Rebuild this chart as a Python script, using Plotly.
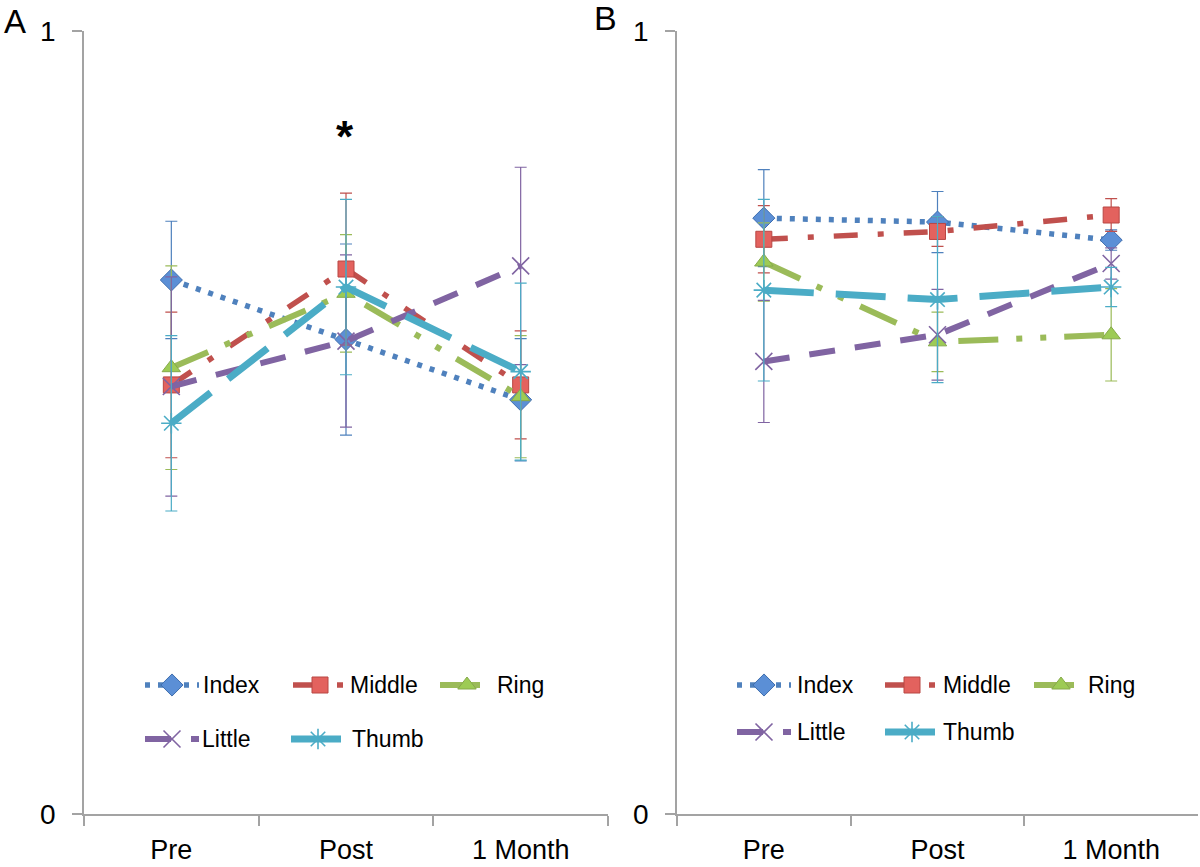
import plotly.graph_objects as go

# ---------------- data ----------------
categories = ["Pre", "Post", "1 Month"]
series_names = ["Index", "Middle", "Ring", "Little", "Thumb"]

a_index = [0.682, 0.606, 0.529]
a_middle = [0.548, 0.696, 0.548]
a_ring = [0.570, 0.665, 0.533]
a_little = [0.546, 0.604, 0.700]
a_thumb = [0.499, 0.673, 0.565]

a_index_err = [0.075, 0.122, 0.078]
a_middle_err = [0.093, 0.097, 0.069]
a_ring_err = [0.130, 0.075, 0.078]
a_little_err = [0.140, 0.110, 0.126]
a_thumb_err = [0.112, 0.112, 0.113]

b_index = [0.761, 0.756, 0.733]
b_middle = [0.734, 0.744, 0.765]
b_ring = [0.705, 0.603, 0.612]
b_little = [0.578, 0.612, 0.703]
b_thumb = [0.669, 0.657, 0.673]

b_index_err = [0.062, 0.039, 0.013]
b_middle_err = [0.043, 0.019, 0.021]
b_ring_err = [0.050, 0.038, 0.059]
b_little_err = [0.078, 0.058, 0.020]
b_thumb_err = [0.116, 0.106, 0.025]

y_tick_vals = [0, 1]
y_tick_text = ["0", "1"]

# ---------------- styles ----------------
W, H = 1200, 867
FONT = "Liberation Sans, Arial, sans-serif"
AXIS_GRAY = "#A3A3A3"

styles = {
    "Index": dict(color="#4F81BD", dash="5px,8px", width=5.5, symbol="diamond",
                  mfill="#5B8FD6", mline="#3F6EAE", msize=17, mlw=1),
    "Middle": dict(color="#C0504D", dash="24px,20px,6px,20px", width=5.5, symbol="square",
                   mfill="#E3625E", mline="#B84643", msize=16, mlw=1),
    "Ring": dict(color="#9BBB59", dash="40px,18px,6px,18px,6px,18px", width=6, symbol="triangle-up",
                 mfill="#9DCB55", mline="#86A94A", msize=16, mlw=1),
    "Little": dict(color="#8064A2", dash="26px,20px", width=6, symbol="x-thin-open",
                   mfill="#8064A2", mline="#8064A2", msize=17, mlw=1.6),
    "Thumb": dict(color="#4BACC6", dash="50px,22px", width=7, symbol="asterisk-open",
                  mfill="#4BACC6", mline="#4BACC6", msize=17, mlw=1.6),
}

panel_a = {"Index": (a_index, a_index_err), "Middle": (a_middle, a_middle_err),
           "Ring": (a_ring, a_ring_err), "Little": (a_little, a_little_err),
           "Thumb": (a_thumb, a_thumb_err)}
panel_b = {"Index": (b_index, b_index_err), "Middle": (b_middle, b_middle_err),
           "Ring": (b_ring, b_ring_err), "Little": (b_little, b_little_err),
           "Thumb": (b_thumb, b_thumb_err)}


def marker_dict(st):
    if st["symbol"].endswith("-open"):
        return dict(symbol=st["symbol"], size=st["msize"], color=st["mline"],
                    line=dict(width=st["mlw"], color=st["mline"]))
    return dict(symbol=st["symbol"], size=st["msize"], color=st["mfill"],
                line=dict(width=st["mlw"], color=st["mline"]))


fig = go.Figure()

for panel, xa, ya in [(panel_a, "x", "y"), (panel_b, "x2", "y2")]:
    for name in series_names:
        vals, errs = panel[name]
        st = styles[name]
        fig.add_trace(go.Scatter(
            x=categories, y=vals, name=name, mode="lines+markers",
            xaxis=xa, yaxis=ya, showlegend=False,
            line=dict(color=st["color"], width=st["width"], dash=st["dash"]),
            marker=marker_dict(st),
            error_y=dict(type="data", array=errs, visible=True,
                         color=st["color"], thickness=1.2, width=6),
        ))

# ---------------- hand-built legends (pixel overlay axis) ----------------
legend_layout = {
    # panel: list of (name, key_center_x, row_y, text_x)
    "A": [("Index", 172, 685, 201), ("Middle", 320, 685, 348), ("Ring", 467, 685, 495),
          ("Little", 172, 739, 200), ("Thumb", 318, 739, 350)],
    "B": [("Index", 764, 685, 795), ("Middle", 912, 685, 941), ("Ring", 1061, 685, 1086),
          ("Little", 764, 732, 795), ("Thumb", 912, 732, 941)],
}
KEY_HALF = 27
annotations = []
for panel, items in legend_layout.items():
    for name, cx, ry, tx in items:
        st = styles[name]
        fig.add_trace(go.Scatter(
            x=[cx - KEY_HALF, cx + KEY_HALF], y=[ry, ry], mode="lines",
            xaxis="x3", yaxis="y3", showlegend=False, hoverinfo="skip",
            line=dict(color=st["color"], width=st["width"], dash=st["dash"]),
        ))
        fig.add_trace(go.Scatter(
            x=[cx], y=[ry], mode="markers", xaxis="x3", yaxis="y3",
            showlegend=False, hoverinfo="skip", marker=marker_dict(st),
        ))
        annotations.append(dict(x=tx, y=ry, xref="x3", yref="y3", text=name,
                                showarrow=False, xanchor="left", yanchor="middle",
                                font=dict(family=FONT, size=23, color="black")))

# panel letters and significance star
annotations.append(dict(x=15, y=21, xref="x3", yref="y3", text="A", showarrow=False,
                        xanchor="center", yanchor="middle",
                        font=dict(family=FONT, size=33, color="black")))
annotations.append(dict(x=605, y=18, xref="x3", yref="y3", text="B", showarrow=False,
                        xanchor="center", yanchor="middle",
                        font=dict(family=FONT, size=34, color="black")))
annotations.append(dict(x=345, y=136, xref="x3", yref="y3", text="<b>*</b>", showarrow=False,
                        xanchor="center", yanchor="middle",
                        font=dict(family=FONT, size=44, color="black")))

y_dom = [1 - 814 / H, 1 - 31 / H]
xaxis_common = dict(type="category", categoryorder="array", categoryarray=categories,
                    range=[-0.5, 2.5], tickson="boundaries", ticks="outside", ticklen=10,
                    tickcolor=AXIS_GRAY, tickwidth=1.5, showline=True, linecolor=AXIS_GRAY,
                    linewidth=1.5, showgrid=False, zeroline=False, automargin=False,
                    tickfont=dict(family=FONT, size=27, color="black"),
                    ticklabelstandoff=11, fixedrange=True)
yaxis_common = dict(range=[0, 1], tickmode="array", tickvals=y_tick_vals, ticktext=y_tick_text,
                    ticks="outside", ticklen=10, tickcolor=AXIS_GRAY, tickwidth=1.5,
                    showline=True, linecolor=AXIS_GRAY, linewidth=1.5, showgrid=False,
                    zeroline=False, automargin=False,
                    tickfont=dict(family=FONT, size=28, color="black"),
                    ticklabelstandoff=11, fixedrange=True, domain=y_dom)

fig.update_layout(
    template="none",
    width=W, height=H, margin=dict(l=0, r=0, t=0, b=0, autoexpand=False),
    paper_bgcolor="white", plot_bgcolor="rgba(0,0,0,0)",
    showlegend=False,
    xaxis=dict(domain=[84 / W, 608 / W], anchor="y", **xaxis_common),
    yaxis=dict(anchor="x", **yaxis_common),
    xaxis2=dict(domain=[677 / W, 1198 / W], anchor="y2", **xaxis_common),
    yaxis2=dict(anchor="x2", **yaxis_common),
    xaxis3=dict(domain=[0, 1], range=[0, W], visible=False, anchor="y3",
                fixedrange=True, automargin=False),
    yaxis3=dict(domain=[0, 1], range=[H, 0], visible=False, anchor="x3",
                fixedrange=True, automargin=False),
    annotations=annotations,
)

fig.write_html(
    "out.html",
    config={"displayModeBar": False},
    post_script="document.body.style.margin='0';document.body.style.padding='0';"
                "document.body.style.overflow='hidden';",
)
